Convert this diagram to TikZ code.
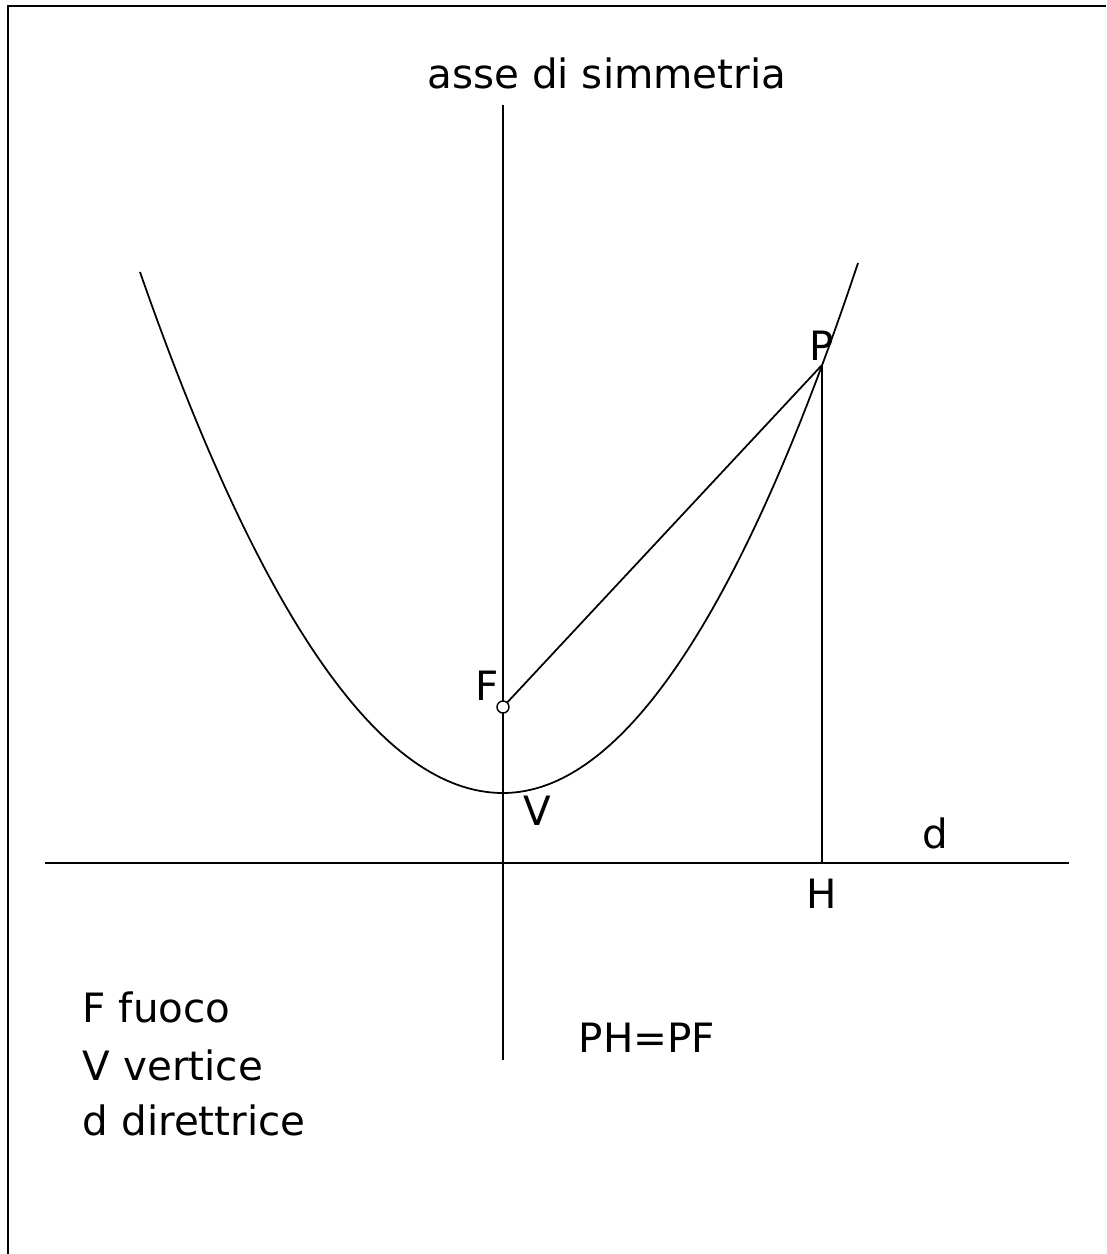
\documentclass[tikz,border=0pt]{standalone}
\usepackage{fontspec}
\setmainfont{DejaVu Sans}
\begin{document}
\begin{tikzpicture}
		[x=0.02cm,y=-0.02cm,line width=1pt,font=\fontsize{23}{27}\selectfont,
		 lbl/.style={inner sep=0pt,anchor=base}]
		\useasboundingbox (0,0) rectangle (1106,1254);
		% frame (left and top only)
		\draw[line width=1.2pt] (8,1254) -- (8,6) -- (1106,6);
		% axis and directrix
		\coordinate (AxTop) at (503,105);
		\coordinate (AxBot) at (503,1060);
		\coordinate (DLeft) at (45,863);
		\coordinate (DRight) at (1069,863);
		\draw (AxTop) -- (AxBot);
		\draw (DLeft) -- (DRight);
		% points
		\coordinate (F) at (503,707);
		\coordinate (P) at (822,365);
		\coordinate (H) at (822,863);
		\coordinate (V) at (503,793);
		\coordinate (LEnd) at (140,272);
		\coordinate (REnd) at (858,263);
		% parabola
		\draw (LEnd) .. controls (261,619) and (382,793) .. (V)
			.. controls (621,793) and (740,617) .. (REnd);
		\draw (F) -- (P);
		\draw (P) -- (H);
		\draw[fill=white,line width=0.8pt] (F) circle[radius=6];
		% labels
		\node (Title) [lbl] at (607,88) {asse di simmetria};
		\node (LblF) [lbl] at (487,700) {F};
		\node (LblP) [lbl] at (822,360) {P};
		\node (LblV) [lbl] at (537,825) {V};
		\node (LblH) [lbl] at (822,908) {H};
		\node (LblD) [lbl] at (935,848) {d};
		\node (Eq) [lbl] at (647,1052) {PH=PF};
		\node (Leg1) [lbl,anchor=base west] at (82,1022) {F fuoco};
		\node (Leg2) [lbl,anchor=base west] at (82,1080) {V vertice};
		\node (Leg3) [lbl,anchor=base west] at (82,1135) {d direttrice};
	\end{tikzpicture}
\end{document}
